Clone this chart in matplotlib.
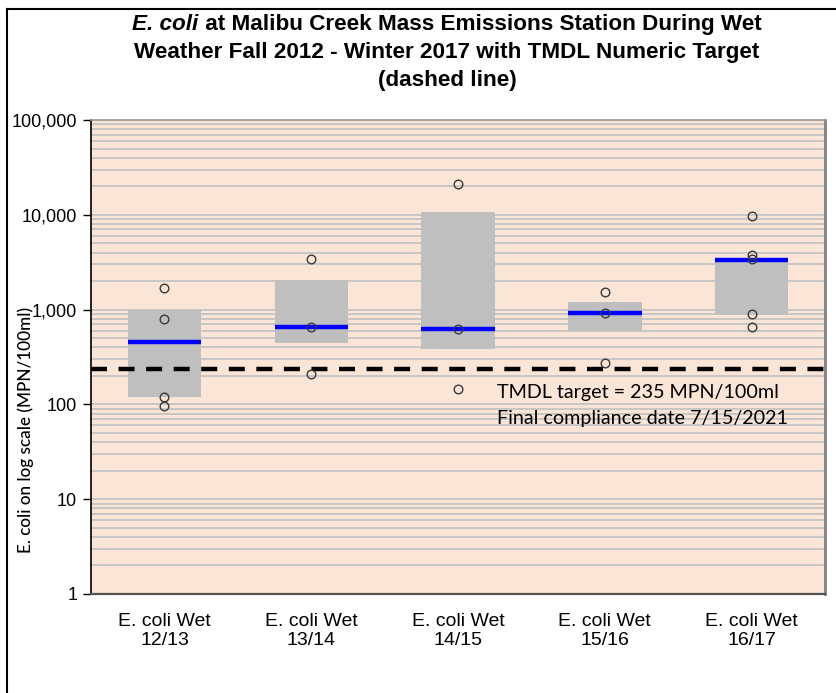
import matplotlib
matplotlib.use("Agg")
import matplotlib.pyplot as plt
from matplotlib.ticker import FixedLocator, LogLocator, NullFormatter, FuncFormatter
from matplotlib.lines import Line2D
from matplotlib import font_manager

# --- data -------------------------------------------------------------
categories = ["E. coli Wet\n12/13", "E. coli Wet\n13/14", "E. coli Wet\n14/15",
              "E. coli Wet\n15/16", "E. coli Wet\n16/17"]
box_low = [120, 440, 380, 590, 870]          # 25th percentile
box_high = [1000, 2050, 10600, 1210, 3500]   # 75th percentile
medians = [450, 660, 620, 920, 3300]
samples = [
    [1700, 790, 120, 96],
    [3400, 660, 210],
    [21000, 620, 145],
    [1550, 920, 275],
    [9600, 3800, 3400, 890, 660],
]
tmdl_target = 235
y_ticks = [1, 10, 100, 1000, 10000, 100000]
note_lines = ["TMDL target = 235 MPN/100ml", "Final compliance date 7/15/2021"]

# --- fonts ------------------------------------------------------------
installed = {f.name for f in font_manager.fontManager.ttflist}
narrow = "Liberation Sans Narrow" if "Liberation Sans Narrow" in installed else "Liberation Sans"

W, H = 836, 693
fig = plt.figure(figsize=(W / 100, H / 100), dpi=100)
ax = fig.add_axes([0.1089, 0.1429, 0.8780, 0.6839])

peach = "#FBE5D6"
grid_gray = "#C4C4C4"
ax.set_facecolor(peach)

x = list(range(len(categories)))
width = 0.5

# interquartile boxes
heights = [h - l for h, l in zip(box_high, box_low)]
ax.bar(x, heights, bottom=box_low, width=width, color="#BFBFBF", zorder=3)

# medians
ax.hlines(medians, [i - width / 2 for i in x], [i + width / 2 for i in x],
          colors="#0000FF", linewidth=3.2, zorder=4)

# individual samples
for i, vals in zip(x, samples):
    ax.plot([i] * len(vals), vals, linestyle="none", marker="o", markersize=6.2,
            markerfacecolor="none", markeredgecolor="#3A3A3A", markeredgewidth=1.0,
            zorder=5)

# TMDL target line
ax.axhline(tmdl_target, color="black", linewidth=3.2, dashes=(3.6, 2.6), zorder=4)

ax.set_yscale("log")
ax.set_ylim(1, 100000)
ax.set_xlim(-0.5, len(categories) - 0.5)

ax.yaxis.set_major_locator(FixedLocator(y_ticks))
ax.yaxis.set_major_formatter(FuncFormatter(lambda v, p: f"{int(round(v)):,}"))
ax.yaxis.set_minor_locator(LogLocator(base=10, subs=range(2, 10)))
ax.yaxis.set_minor_formatter(NullFormatter())
ax.grid(True, which="both", axis="y", color=grid_gray, linewidth=1.3, zorder=1)
ax.set_axisbelow(True)

ax.set_xticks(x)
ax.set_xticklabels(categories, fontsize=14, family=narrow, linespacing=1.15)
ax.tick_params(axis="x", length=0, pad=14)
ax.tick_params(axis="y", which="major", length=6, width=1, direction="out",
               labelsize=13, pad=4)
ax.tick_params(axis="y", which="minor", length=0)
for lab in ax.get_yticklabels():
    lab.set_family("Liberation Sans")

ax.spines["left"].set_color("black")
ax.spines["left"].set_linewidth(1.2)
ax.spines["bottom"].set_color("#555555")
ax.spines["bottom"].set_linewidth(1.6)
ax.spines["top"].set_color("#9A9A9A")
ax.spines["top"].set_linewidth(1.2)
ax.spines["right"].set_color("#808080")
ax.spines["right"].set_linewidth(2.0)

ax.set_ylabel("E. coli on log scale (MPN/100ml)", family="Lato", fontsize=12.3,
              fontweight="medium")
ax.yaxis.set_label_coords(-0.078, 0.346)

# target annotation, two lines
note_x = 2.262
ax.text(note_x, 134, note_lines[0], family="Lato", fontsize=14.2,
        va="center", ha="left", zorder=6)
ax.text(note_x, 71, note_lines[1], family="Lato", fontsize=14.2,
        va="center", ha="left", zorder=6)

# title: italic organism name followed by bold text
title_fs = 16.2
cx = 447
t_it = fig.text(0, 1 - 30 / H, "E. coli", fontsize=title_fs, fontweight="bold",
                style="italic", family="Liberation Sans", ha="left", va="baseline")
t_rest = fig.text(0, 1 - 30 / H, " at Malibu Creek Mass Emissions Station During Wet",
                  fontsize=title_fs, fontweight="bold", family="Liberation Sans",
                  ha="left", va="baseline")
renderer = fig.canvas.get_renderer()
w1 = t_it.get_window_extent(renderer).width
w2 = t_rest.get_window_extent(renderer).width
x0 = cx - (w1 + w2) / 2
t_it.set_x(x0 / W)
t_rest.set_x((x0 + w1) / W)
fig.text(cx / W, 1 - 58 / H, "Weather Fall 2012 - Winter 2017 with TMDL Numeric Target",
         fontsize=title_fs, fontweight="bold", family="Liberation Sans",
         ha="center", va="baseline")
fig.text(cx / W, 1 - 86 / H, "(dashed line)", fontsize=title_fs, fontweight="bold",
         family="Liberation Sans", ha="center", va="baseline")

# outer frame
fig.add_artist(Line2D([7 / W, 7 / W], [0, 1 - 9 / H], color="black",
                      linewidth=1.5, transform=fig.transFigure))
fig.add_artist(Line2D([7 / W, 1], [1 - 9 / H, 1 - 9 / H], color="black",
                      linewidth=1.5, transform=fig.transFigure))

fig.savefig("out.png", dpi=100, facecolor="white")
